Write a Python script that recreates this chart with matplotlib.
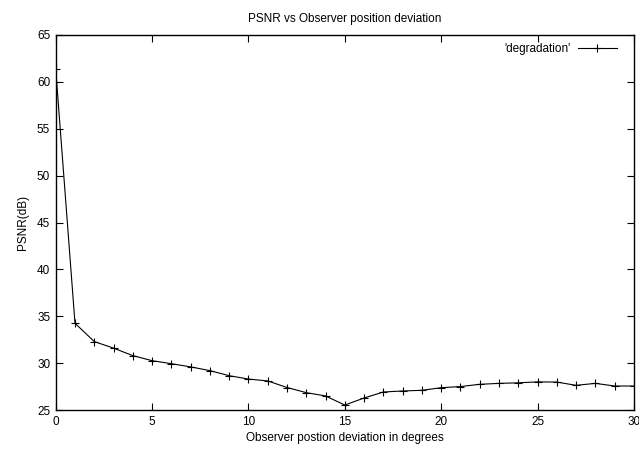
import matplotlib
matplotlib.use("Agg")
import matplotlib.pyplot as plt

plt.rcParams['font.family'] = ['Liberation Sans', 'DejaVu Sans']

deviation = list(range(0, 31))
psnr = [61.34, 34.25, 32.3, 31.6, 30.8, 30.26, 29.94, 29.6, 29.2, 28.66,
        28.3, 28.1, 27.4, 26.85, 26.5, 25.53, 26.28, 26.92, 27.03, 27.1,
        27.38, 27.5, 27.74, 27.84, 27.9, 28.0, 27.98, 27.63, 27.84, 27.56, 27.56]
xticks = [0, 5, 10, 15, 20, 25, 30]
yticks = [25, 30, 35, 40, 45, 50, 55, 60, 65]

fig = plt.figure(figsize=(6.39, 4.51), dpi=100)
ax = fig.add_axes([0.0872, 0.0909, 0.9048, 0.8315])
ax.plot(deviation, psnr, color='black', linewidth=0.8, marker='+',
        markersize=5.5, markeredgewidth=0.8, label="'degradation'")
ax.set_xlim(0, 30)
ax.set_ylim(25, 65)
ax.set_xticks(xticks)
ax.set_yticks(yticks)
ax.tick_params(direction='in', top=True, right=True, length=5, width=0.8,
               labelsize=8.5, pad=4)
for s in ax.spines.values():
    s.set_linewidth(1.0)
ax.set_title('PSNR vs Observer position deviation', fontsize=8.5, pad=9)
ax.set_xlabel('Observer postion deviation in degrees', fontsize=8.5, labelpad=3)
ax.set_ylabel('PSNR(dB)', fontsize=8.5, labelpad=6)
leg = ax.legend(loc='upper right', bbox_to_anchor=(0.985, 1.0), frameon=False,
                markerfirst=False, fontsize=8.5, handlelength=3.3,
                borderaxespad=0.3, handletextpad=0.6)
fig.savefig('out.png', dpi=100)
